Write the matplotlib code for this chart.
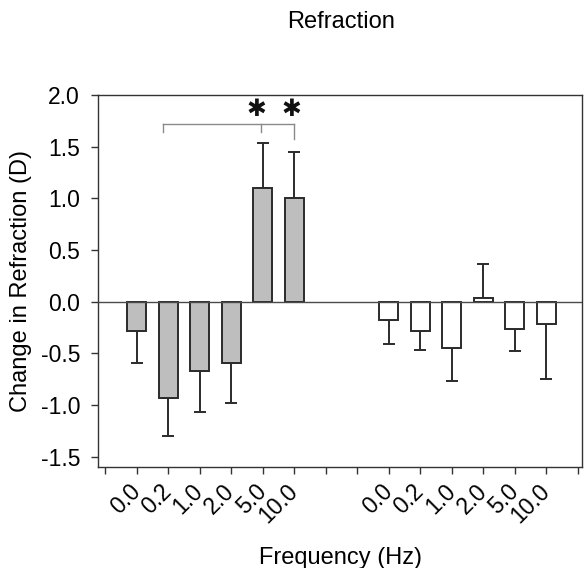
import matplotlib
matplotlib.use("Agg")
import matplotlib.pyplot as plt
import numpy as np

plt.rcParams['font.family'] = ['Liberation Sans', 'DejaVu Sans']

# ---- data ----
freq_labels = ["0.0", "0.2", "1.0", "2.0", "5.0", "10.0"]
gray_vals = [-0.28, -0.93, -0.67, -0.59, 1.10, 1.00]
gray_err = [0.31, 0.37, 0.40, 0.39, 0.44, 0.45]
white_vals = [-0.18, -0.28, -0.45, 0.04, -0.265, -0.22]
white_err = [0.23, 0.19, 0.32, 0.325, 0.215, 0.53]
gray_pos = [1, 2, 3, 4, 5, 6]
white_pos = [9, 10, 11, 12, 13, 14]
yticks = [-1.5, -1.0, -0.5, 0.0, 0.5, 1.0, 1.5, 2.0]

# bracket (significance) geometry in data units
bracket_y = 1.72
bracket_x = [1.85, 4.95, 6.0]
bracket_drop = [1.64, 1.64, 1.575]
star_x = [4.79, 5.92]
star_y = 1.86

fig = plt.figure(figsize=(5.84, 5.68), dpi=100)
ax = fig.add_axes([0.168, 0.1778, 0.8286, 0.6549])

edge = '#2b2b2b'
fs = 16.5

def one_sided(vals, errs):
    lo = [e if v < 0 else 0 for v, e in zip(vals, errs)]
    hi = [e if v >= 0 else 0 for v, e in zip(vals, errs)]
    return [lo, hi]

ax.bar(gray_pos, gray_vals, width=0.6, color='#bebebe', edgecolor=edge, linewidth=1.4, zorder=3)
ax.bar(white_pos, white_vals, width=0.6, color='white', edgecolor=edge, linewidth=1.4, zorder=3)
ax.errorbar(gray_pos, gray_vals, yerr=one_sided(gray_vals, gray_err), fmt='none',
            ecolor=edge, elinewidth=1.4, capsize=4, capthick=1.4, zorder=2)
ax.errorbar(white_pos, white_vals, yerr=one_sided(white_vals, white_err), fmt='none',
            ecolor=edge, elinewidth=1.4, capsize=4, capthick=1.4, zorder=2)

ax.axhline(0, color='#4a4a4a', linewidth=1.0, zorder=4)

# bracket
ax.plot([bracket_x[0], bracket_x[-1]], [bracket_y, bracket_y], color='#8a8a8a', lw=1.0, zorder=2)
for bx, bd in zip(bracket_x, bracket_drop):
    ax.plot([bx, bx], [bracket_y, bd], color='#8a8a8a', lw=1.0, zorder=2)
for sx in star_x:
    ax.text(sx, star_y, "\u2731", fontsize=17, family='DejaVu Sans', ha='center', va='center',
            color='#111111')

ax.set_xlim(-0.222, 15.13)
ax.set_ylim(-1.6, 2.0)
ax.set_yticks(yticks)
ax.set_yticklabels([f"{t:.1f}" for t in yticks], fontsize=fs)
ax.set_xticks(np.arange(0, 16))
lbls = [""] * 16
for p, l in zip(gray_pos, freq_labels):
    lbls[p] = l
for p, l in zip(white_pos, freq_labels):
    lbls[p] = l
ax.set_xticklabels(lbls, fontsize=fs, rotation=45, ha='right', va='center',
                   rotation_mode='anchor')
ax.tick_params(axis='x', direction='out', length=5, width=1, color='#333333', pad=10)
ax.tick_params(axis='y', direction='out', length=5, width=1, color='#333333', pad=8)
for s in ax.spines.values():
    s.set_color('#333333')
    s.set_linewidth(1.0)

ax.set_xlabel("Frequency (Hz)", fontsize=17, labelpad=14)
ax.set_ylabel("Change in Refraction (D)", fontsize=17, labelpad=6)
fig.text(0.584, 0.962, "Refraction", fontsize=17, ha='center', va='center')

fig.savefig("out.png", dpi=100)
